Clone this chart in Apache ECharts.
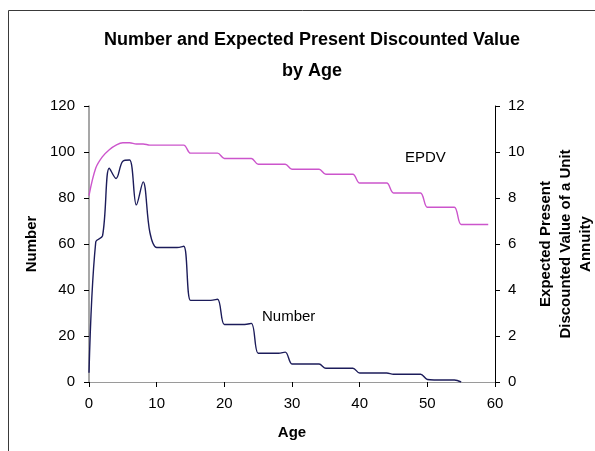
<!DOCTYPE html>
<html>
<head>
<meta charset="utf-8">
<script src="https://cdn.jsdelivr.net/npm/echarts@6/dist/echarts.min.js"></script>
<style>
  html, body { margin: 0; padding: 0; background: #fff; }
  #chart { width: 595px; height: 451px; }
</style>
</head>
<body>
<div id="chart"></div>
<script>
// Number of people by age (left axis)
const numberAges = [0,1,2,3,4,5,6,7,8,9,10,11,12,13,14,15,16,17,18,19,20,21,22,23,24,25,26,27,28,29,30,31,32,33,34,35,36,37,38,39,40,41,42,43,44,45,46,47,48,49,50,51,52,53,54,55];
const numberValues = [4,61,63.5,93,88.5,96,96.5,77,87,65,58.5,58.5,58.5,58.5,59,35.5,35.5,35.5,35.5,36,25,25,25,25,25.5,12.5,12.5,12.5,12.5,13,7.8,7.8,7.8,7.8,7.8,6,6,6,6,6,3.9,3.9,3.9,3.9,3.9,3.4,3.4,3.4,3.4,3.4,1.1,0.9,0.9,0.9,0.9,0];

// Expected present discounted value of a unit annuity by age (right axis)
const epdvAges = [0,1,2,3,4,5,6,7,8,9,10,11,12,13,14,15,16,17,18,19,20,21,22,23,24,25,26,27,28,29,30,31,32,33,34,35,36,37,38,39,40,41,42,43,44,45,46,47,48,49,50,51,52,53,54,55,56,57,58,59];
const epdvValues = [8.1,9.3,9.8,10.1,10.3,10.4,10.4,10.35,10.35,10.3,10.3,10.3,10.3,10.3,10.3,9.95,9.95,9.95,9.95,9.95,9.72,9.72,9.72,9.72,9.72,9.47,9.47,9.47,9.47,9.47,9.25,9.25,9.25,9.25,9.25,9.03,9.03,9.03,9.03,9.03,8.65,8.65,8.65,8.65,8.65,8.22,8.22,8.22,8.22,8.22,7.6,7.6,7.6,7.6,7.6,6.85,6.85,6.85,6.85,6.85];

// Axis ticks
const ageTicks = [0, 10, 20, 30, 40, 50, 60];
const numberTicks = [0, 20, 40, 60, 80, 100, 120];
const epdvTicks = [0, 2, 4, 6, 8, 10, 12];

const FONT = '"Liberation Sans", Arial, sans-serif';

const pairs = (xs, ys) => xs.map((x, i) => [x, ys[i]]);

const chart = echarts.init(document.getElementById('chart'), null, { renderer: 'canvas' });

const baseLabel = { fontFamily: FONT, fontSize: 15, color: '#000' };

chart.setOption({
  animation: false,
  backgroundColor: '#fff',
  title: {
    text: 'Number and Expected Present Discounted Value\nby Age',
    left: 307,
    top: 20,
    textAlign: 'center',
    textStyle: { fontFamily: FONT, fontSize: 18, fontWeight: 'bold', color: '#000', lineHeight: 31 }
  },
  // fixed plot rectangle; labels and names sit outside it
  grid: { left: 89, right: 100, top: 106, bottom: 69, containLabel: false, outerBoundsMode: 'none' },
  xAxis: [
    {
      type: 'value',
      min: ageTicks[0],
      max: ageTicks[ageTicks.length - 1],
      interval: ageTicks[1] - ageTicks[0],
      name: 'Age',
      nameLocation: 'middle',
      nameGap: 43,
      nameTextStyle: { fontFamily: FONT, fontSize: 15, fontWeight: 'bold', color: '#000' },
      axisLine: { lineStyle: { color: '#000', width: 1 } },
      axisTick: { length: 5, lineStyle: { color: '#000' } },
      axisLabel: Object.assign({ margin: 14 }, baseLabel),
      splitLine: { show: false }
    },
    {
      // top edge of the plot area
      type: 'value',
      position: 'top',
      min: 0, max: 60,
      axisLine: { lineStyle: { color: '#9a9a9a', width: 1 } },
      axisTick: { show: false },
      axisLabel: { show: false },
      splitLine: { show: false }
    }
  ],
  yAxis: [
    {
      type: 'value',
      min: numberTicks[0],
      max: numberTicks[numberTicks.length - 1],
      interval: numberTicks[1] - numberTicks[0],
      position: 'left',
      name: 'Number',
      nameLocation: 'middle',
      nameGap: 46,
      nameRotate: 90,
      nameTextStyle: { fontFamily: FONT, fontSize: 15, fontWeight: 'bold', color: '#000' },
      axisLine: { show: true, onZero: false, lineStyle: { color: '#8a8a8a', width: 1.5 } },
      axisTick: { show: true, length: 5, lineStyle: { color: '#606060' } },
      axisLabel: Object.assign({ margin: 14 }, baseLabel),
      splitLine: { show: false }
    },
    {
      type: 'value',
      min: epdvTicks[0],
      max: epdvTicks[epdvTicks.length - 1],
      interval: epdvTicks[1] - epdvTicks[0],
      position: 'right',
      name: 'Expected Present\nDiscounted Value of a Unit\nAnnuity',
      nameLocation: 'middle',
      nameGap: 38,
      nameRotate: 90,
      nameTextStyle: { fontFamily: FONT, fontSize: 15, fontWeight: 'bold', color: '#000', lineHeight: 20 },
      axisLine: { show: true, onZero: false, lineStyle: { color: '#000', width: 1 } },
      axisTick: { show: true, length: 5, lineStyle: { color: '#000' } },
      axisLabel: Object.assign({ margin: 13 }, baseLabel),
      splitLine: { show: false }
    },
    {
      // inner half of the crossing ticks on the right axis
      type: 'value',
      min: 0, max: 12, interval: 2,
      position: 'right',
      axisLine: { show: false },
      axisTick: { show: true, inside: true, length: 5, lineStyle: { color: '#000' } },
      axisLabel: { show: false },
      splitLine: { show: false }
    }
  ],
  graphic: [
    {
      // outer chart frame
      type: 'rect',
      shape: { x: 8.5, y: 10.5, width: 620, height: 480 },
      style: { fill: null, stroke: '#3a3a3a', lineWidth: 1 },
      silent: true,
      z: 100
    },
    {
      type: 'text',
      left: 262, top: 309,
      style: { text: 'Number', font: '15px ' + FONT, fill: '#000' }
    },
    {
      type: 'text',
      left: 405, top: 150,
      style: { text: 'EPDV', font: '15px ' + FONT, fill: '#000' }
    }
  ],
  series: [
    {
      name: 'Number',
      type: 'line',
      xAxisIndex: 0,
      yAxisIndex: 0,
      data: pairs(numberAges, numberValues),
      smooth: 0.35,
      showSymbol: false,
      lineStyle: { color: '#1c1c5a', width: 1.4 },
      z: 3
    },
    {
      name: 'EPDV',
      type: 'line',
      xAxisIndex: 0,
      yAxisIndex: 1,
      data: pairs(epdvAges, epdvValues),
      smooth: 0.35,
      showSymbol: false,
      lineStyle: { color: '#cc55cc', width: 1.4 },
      z: 2
    }
  ]
});
</script>
</body>
</html>
